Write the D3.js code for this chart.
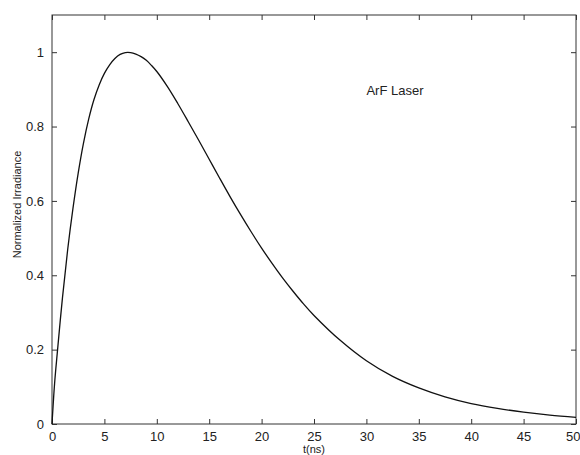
<!DOCTYPE html>
<html>
<head>
<meta charset="utf-8">
<script src="https://cdn.jsdelivr.net/npm/d3@7"></script>
<style>
  html, body { margin: 0; padding: 0; background: #fff; }
  svg { display: block; }
  text { font-family: "Liberation Sans", Arial, Helvetica, sans-serif; fill: #222; }
</style>
</head>
<body>
<svg id="chart" width="580" height="455"></svg>
<script>
// ---- data ----
const tValues = [0, 0.25, 0.5, 1, 1.5, 2, 2.5, 3, 3.5, 4, 4.5, 5, 5.5, 6, 6.5, 7, 7.5, 8, 8.5, 9, 9.5, 10, 11, 12, 13, 14, 15, 16, 17, 18, 19, 20, 21, 22, 23, 24, 25, 27.5, 30, 32.5, 35, 37.5, 40, 42.5, 45, 47.5, 50];
const irradiance = [0, 0.11, 0.19, 0.34, 0.47, 0.58, 0.675, 0.755, 0.82, 0.872, 0.912, 0.943, 0.966, 0.983, 0.994, 0.999, 0.999, 0.995, 0.988, 0.978, 0.964, 0.948, 0.908, 0.862, 0.813, 0.763, 0.712, 0.661, 0.611, 0.563, 0.517, 0.473, 0.432, 0.393, 0.357, 0.323, 0.292, 0.225, 0.170, 0.128, 0.097, 0.073, 0.055, 0.042, 0.032, 0.024, 0.018];
const xTicks = [0, 5, 10, 15, 20, 25, 30, 35, 40, 45, 50];
const yTicks = [0, 0.2, 0.4, 0.6, 0.8, 1];
const xDomain = [0, 50];
const yDomain = [0, 1.1];
const xLabel = "t(ns)";
const yLabel = "Normalized Irradiance";
const annotation = { text: "ArF Laser", t: 30, v: 0.885 };

// ---- layout ----
const svg = d3.select("#chart");
const mLeft = 52, mRight = 576, mTop = 15, mBottom = 424;
const x = d3.scaleLinear().domain(xDomain).range([mLeft, mRight]);
const y = d3.scaleLinear().domain(yDomain).range([mBottom, mTop]);
const tickLen = 5;
const axisColor = "#333";

// box
svg.append("rect")
  .attr("x", mLeft).attr("y", mTop)
  .attr("width", mRight - mLeft).attr("height", mBottom - mTop)
  .attr("fill", "none").attr("stroke", axisColor).attr("stroke-width", 1);

function styleAxis(g) {
  g.select(".domain").remove();
  g.selectAll(".tick line").attr("stroke", axisColor).attr("stroke-width", 1);
  g.selectAll(".tick text").attr("font-size", 13).attr("font-family", "Liberation Sans, Arial, sans-serif").attr("fill", "#222");
}

// bottom axis (inward ticks)
const gx = svg.append("g")
  .attr("transform", `translate(0,${mBottom})`)
  .call(d3.axisBottom(x).tickValues(xTicks).tickSizeInner(-tickLen).tickSizeOuter(0).tickPadding(8).tickFormat(d3.format("d")))
  .call(styleAxis);
// keep the last label inside the window
gx.selectAll(".tick text").filter(d => d === xDomain[1]).attr("text-anchor", "end").attr("dx", 4);

// top axis (ticks only)
svg.append("g")
  .attr("transform", `translate(0,${mTop})`)
  .call(d3.axisTop(x).tickValues(xTicks).tickSizeInner(-tickLen).tickSizeOuter(0).tickFormat(""))
  .call(styleAxis);

// left axis
svg.append("g")
  .attr("transform", `translate(${mLeft},0)`)
  .call(d3.axisLeft(y).tickValues(yTicks).tickSizeInner(-tickLen).tickSizeOuter(0).tickPadding(8).tickFormat(d => d === 0 || d === 1 ? d3.format("d")(d) : d3.format(".1f")(d)))
  .call(styleAxis);

// right axis (ticks only)
svg.append("g")
  .attr("transform", `translate(${mRight},0)`)
  .call(d3.axisRight(y).tickValues(yTicks).tickSizeInner(-tickLen).tickSizeOuter(0).tickFormat(""))
  .call(styleAxis);

// curve
const data = tValues.map((t, i) => ({ t, v: irradiance[i] }));
svg.append("path")
  .datum(data)
  .attr("fill", "none")
  .attr("stroke", "#111")
  .attr("stroke-width", 1.3)
  .attr("d", d3.line().x(d => x(d.t)).y(d => y(d.v)).curve(d3.curveCatmullRom.alpha(0.5)));

// annotation
svg.append("text")
  .attr("x", x(annotation.t)).attr("y", y(annotation.v))
  .attr("font-size", 13)
  .text(annotation.text);

// axis labels
svg.append("text")
  .attr("x", (mLeft + mRight) / 2).attr("y", 453)
  .attr("text-anchor", "middle")
  .attr("font-size", 11)
  .text(xLabel);

svg.append("text")
  .attr("transform", `translate(21,${(y(0) + y(1.1)) / 2 - 15}) rotate(-90)`)
  .attr("text-anchor", "middle")
  .attr("font-size", 11)
  .text(yLabel);
</script>
</body>
</html>
